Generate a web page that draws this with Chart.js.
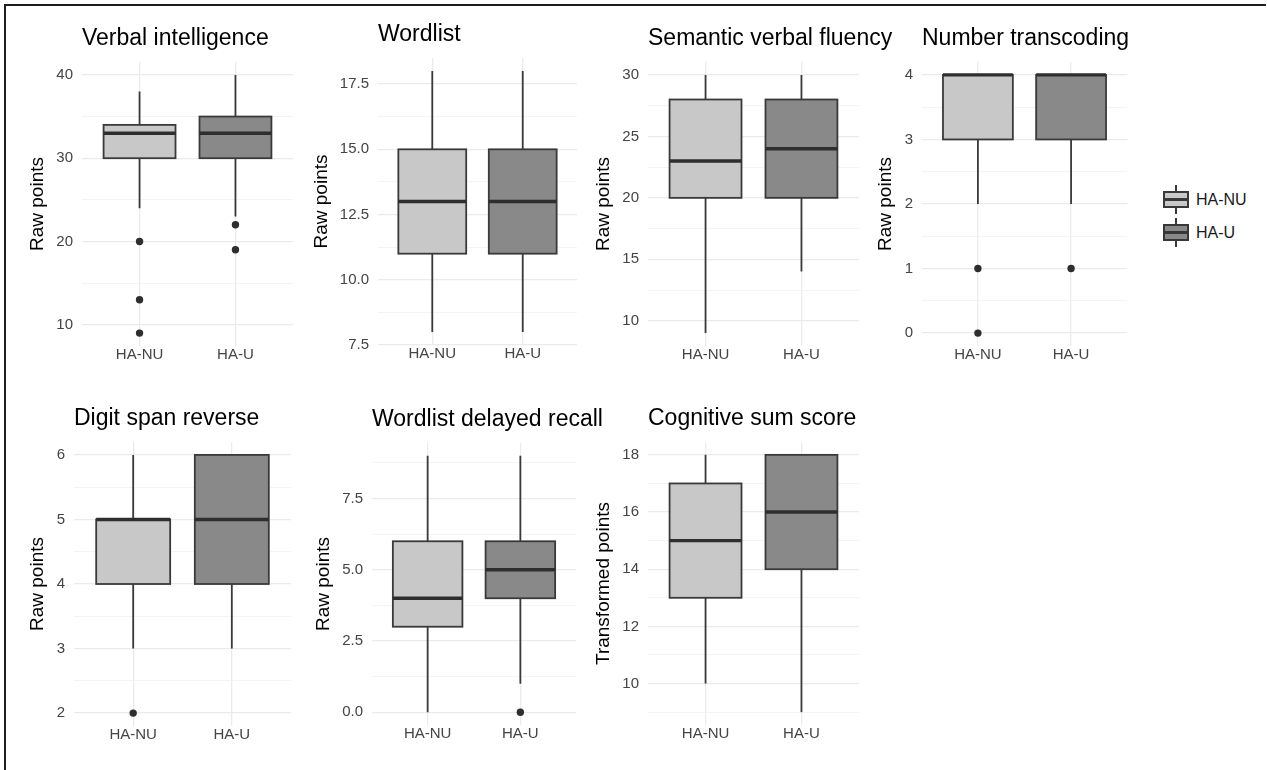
<!DOCTYPE html>
<html>
<head>
<meta charset="utf-8">
<script src="https://cdn.jsdelivr.net/npm/chart.js@4.4.1/dist/chart.umd.min.js"></script>
<style>
  html, body { margin: 0; padding: 0; background: #fff; }
  #page { position: relative; width: 1267px; height: 770px; overflow: hidden;
          font-family: "Liberation Sans", Arial, sans-serif; }
  #page canvas { position: absolute; }
  .frame-top { position: absolute; left: 4px; top: 4px; width: 1262px; height: 2px; background: #1e1e1e; }
  .frame-left { position: absolute; left: 4px; top: 4px; width: 2px; height: 766px; background: #1e1e1e; }
  .legend { position: absolute; left: 1163px; top: 185px; }
  .item { position: relative; height: 33px; width: 90px; }
  .key { position: absolute; left: 0; top: 0; width: 26px; height: 29px; }
  .key .wh { position: absolute; left: 12px; top: 0; width: 2px; height: 29px; background: #383838; }
  .key .bx { position: absolute; left: 0; top: 6px; width: 22px; height: 13px; border: 2px solid #383838; }
  .key .md { position: absolute; left: 0; top: 12.5px; width: 26px; height: 3px; background: #383838; }
  .item span.lbl { position: absolute; left: 33px; top: 0; line-height: 29px; font-size: 16px; color: #1a1a1a; }
</style>
</head>
<body>
<div id="page">
  <div class="frame-top"></div>
  <div class="frame-left"></div>
  <div class="legend">
    <div class="item"><div class="key"><i class="wh"></i><i class="bx" style="background:#c8c8c8"></i><i class="md"></i></div><span class="lbl">HA-NU</span></div>
    <div class="item"><div class="key"><i class="wh"></i><i class="bx" style="background:#898989"></i><i class="md"></i></div><span class="lbl">HA-U</span></div>
  </div>
</div>
<script>
const groups = ["HA-NU", "HA-U"];

const panelTitles = [
  "Verbal intelligence", "Wordlist", "Semantic verbal fluency", "Number transcoding",
  "Digit span reverse", "Wordlist delayed recall", "Cognitive sum score"
];

const yTitles = [
  "Raw points", "Raw points", "Raw points", "Raw points",
  "Raw points", "Raw points", "Transformed points"
];

const yTickLabels = [
  ["10", "20", "30", "40"],
  ["7.5", "10.0", "12.5", "15.0", "17.5"],
  ["10", "15", "20", "25", "30"],
  ["0", "1", "2", "3", "4"],
  ["2", "3", "4", "5", "6"],
  ["0.0", "2.5", "5.0", "7.5"],
  ["10", "12", "14", "16", "18"]
];

// lower whisker, Q1, median, Q3, upper whisker
const statsNU = [
  [24, 30, 33, 34, 38],
  [8, 11, 13, 15, 18],
  [9, 20, 23, 28, 30],
  [2, 3, 4, 4, 4],
  [3, 4, 5, 5, 6],
  [0, 3, 4, 6, 9],
  [10, 13, 15, 17, 18]
];
const statsU = [
  [23, 30, 33, 35, 40],
  [8, 11, 13, 15, 18],
  [14, 20, 24, 28, 30],
  [2, 3, 4, 4, 4],
  [3, 4, 5, 6, 6],
  [1, 4, 5, 6, 9],
  [9, 14, 16, 18, 18]
];

const outliersNU = [[20, 13, 9], [], [], [1, 0], [2], [], []];
const outliersU = [[22, 19], [], [], [1], [], [0], []];

const fills = ["#c8c8c8", "#898989"];
const lineCol = "#3a3a3a";
const FONT = '"Liberation Sans", Arial, sans-serif';

// plot area of each panel on the page: left, top, right, bottom
const plotRects = [
  [82, 62, 293, 346],
  [378, 58, 577, 345],
  [648, 62, 859, 346],
  [922, 62, 1127, 346],
  [74, 442, 291, 726],
  [372, 443, 576, 725],
  [648, 442, 859, 725]
];

Chart.defaults.font.family = FONT;

function boxPlugin(stats) {
  return {
    id: "boxes",
    beforeDatasetsDraw(chart) {
      const { ctx, scales: { x, y } } = chart;
      ctx.save();
      stats.forEach((s, g) => {
        const [wLo, q1, med, q3, wHi] = s;
        const cx = x.getPixelForValue(g + 1);
        const xl = x.getPixelForValue(g + 1 - 0.375);
        const xr = x.getPixelForValue(g + 1 + 0.375);
        const yt = y.getPixelForValue(q3);
        const yb = y.getPixelForValue(q1);
        ctx.strokeStyle = lineCol;
        ctx.lineWidth = 1.8;
        ctx.beginPath();
        ctx.moveTo(cx, y.getPixelForValue(wHi));
        ctx.lineTo(cx, yt);
        ctx.moveTo(cx, yb);
        ctx.lineTo(cx, y.getPixelForValue(wLo));
        ctx.stroke();
        ctx.fillStyle = fills[g];
        ctx.fillRect(xl, yt, xr - xl, yb - yt);
        ctx.strokeRect(xl, yt, xr - xl, yb - yt);
        const ym = y.getPixelForValue(med);
        ctx.lineWidth = 3.4;
        ctx.strokeStyle = "#2e2e2e";
        ctx.beginPath();
        ctx.moveTo(xl, ym);
        ctx.lineTo(xr, ym);
        ctx.stroke();
      });
      ctx.restore();
    }
  };
}

function titlePlugin(text) {
  return {
    id: "panelTitle",
    afterDraw(chart) {
      const { ctx, chartArea } = chart;
      ctx.save();
      ctx.font = "23px " + FONT;
      ctx.fillStyle = "#000";
      ctx.textAlign = "left";
      ctx.textBaseline = "middle";
      ctx.fillText(text, chartArea.left, chartArea.top - 23);
      ctx.restore();
    }
  };
}

const page = document.getElementById("page");

panelTitles.forEach((title, i) => {
  const [pl, pt, pr, pb] = plotRects[i];
  const left = pl - 90, top = pt - 60;
  const extraRight = 70;
  const W = pr - left + extraRight, H = pb - top + 40;

  const cv = document.createElement("canvas");
  cv.width = W;
  cv.height = H;
  cv.style.left = left + "px";
  cv.style.top = top + "px";
  page.appendChild(cv);

  const stats = [statsNU[i], statsU[i]];
  const all = stats.flat().concat(outliersNU[i], outliersU[i]);
  const lo = Math.min(...all), hi = Math.max(...all);
  const pad = (hi - lo) * 0.05;
  const yMin = lo - pad, yMax = hi + pad;

  const majors = yTickLabels[i].map(Number);
  const step = majors[1] - majors[0];
  const yTicks = majors.map(v => ({ value: v, minor: false }));
  [majors[0] - step].concat(majors).forEach(v => {
    const m = v + step / 2;
    if (m >= yMin && m <= yMax) yTicks.push({ value: m, minor: true });
  });
  yTicks.sort((a, b) => a.value - b.value);

  const points = [];
  outliersNU[i].forEach(v => points.push({ x: 1, y: v }));
  outliersU[i].forEach(v => points.push({ x: 2, y: v }));

  const chart = new Chart(cv, {
    type: "scatter",
    data: {
      datasets: [{
        data: points,
        pointRadius: 3.7,
        pointBackgroundColor: "#2e2e2e",
        pointBorderWidth: 0,
        clip: false
      }]
    },
    options: {
      responsive: false,
      animation: false,
      events: [],
      layout: { padding: { left: 0, top: 60, right: extraRight, bottom: 0 } },
      plugins: { legend: { display: false }, tooltip: { enabled: false } },
      scales: {
        x: {
          type: "linear",
          min: 0.4,
          max: 2.6,
          afterBuildTicks: s => { s.ticks = groups.map((g, k) => ({ value: k + 1 })); },
          ticks: {
            callback: v => groups[v - 1],
            font: { size: 15 },
            color: "#444",
            padding: 0,
            autoSkip: false,
            maxRotation: 0
          },
          grid: { color: "#ebebeb", lineWidth: 1.3, drawTicks: false },
          border: { display: false }
        },
        y: {
          type: "linear",
          min: yMin,
          max: yMax,
          afterBuildTicks: s => { s.ticks = yTicks.map(t => ({ value: t.value, minor: t.minor })); },
          ticks: {
            callback: (v, k, t) => t[k].minor ? "" : yTickLabels[i][majors.indexOf(v)],
            font: { size: 15 },
            color: "#444",
            padding: 9,
            autoSkip: false
          },
          grid: {
            color: c => (c.tick && c.tick.minor) ? "#f1f1f1" : "#ebebeb",
            lineWidth: c => (c.tick && c.tick.minor) ? 0.8 : 1.3,
            drawTicks: false
          },
          border: { display: false },
          title: {
            display: true,
            text: yTitles[i],
            font: { size: 19, lineHeight: 1 },
            color: "#000",
            padding: { top: 0, bottom: 0 }
          }
        }
      }
    },
    plugins: [boxPlugin(stats), titlePlugin(title)]
  });

  // second pass: pin the plot area to its place on the page
  const a = chart.chartArea;
  chart.options.layout.padding = {
    left: 90 - a.left,
    top: 60,
    right: extraRight,
    bottom: a.bottom - (pb - top)
  };
  chart.update();
});
</script>
</body>
</html>
